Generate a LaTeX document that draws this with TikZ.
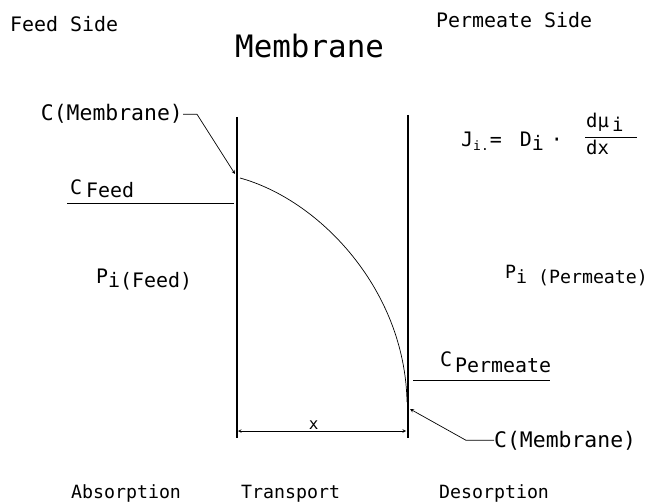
\documentclass[tikz,border=0pt]{standalone}
\usepackage{fontspec}
\setmainfont{DejaVu Sans Mono}
\usetikzlibrary{arrows}
\newcommand{\lowtxt}[2][3bp]{\raisebox{-#1}{#2}}
\tikzset{
    txt/.style = {
        inner sep=0pt, anchor=base west,
        font=\fontsize{20}{22}\selectfont
    },
    smalltxt/.style = {
        txt, font=\fontsize{18.3}{20}\selectfont
    },
    bigtxt/.style = {
        txt, font=\fontsize{21.5}{23}\selectfont
    },
    title/.style = {
        txt, font=\fontsize{31}{33}\selectfont
    },
    wall/.style = {
        line width=1.6pt
    },
    thinline/.style = {
        line width=0.7pt
    },
    leader/.style = {
        -stealth, line width=0.7pt
    },
    dim/.style = {
        stealth-stealth, line width=0.6pt
    }
}
\begin{document}
\begin{tikzpicture}[x=1bp, y=-1bp]
\useasboundingbox (0,0) rectangle (658,503);

% headings
\node (feedside) [txt] at (10,32) {Feed Side};
\node (membrane) [title] at (235,58) {Membrane};
\node (permside) [txt] at (436,28) {Permeate Side};

% membrane walls
\coordinate (lt) at (237,117);
\coordinate (lb) at (237,438);
\coordinate (rt) at (408,115);
\coordinate (rb) at (408,438);
\draw [wall] (lt) -- (lb);
\draw [wall] (rt) -- (rb);

% concentration profile
\coordinate (cstart) at (240,178);
\coordinate (cend) at (407,402);
\draw [thinline] (cstart) .. controls (320,200) and (405,290) .. (cend);

% feed side
\node (cmemtop) [bigtxt, anchor=base east] at (183,121) {C(Membrane)};
\coordinate (hittop) at (235,174);
\draw [leader] (cmemtop.east) -- ++(14,0) -- (hittop);
\node (cfeed) [txt] at (70,195) {C\kern4bp\lowtxt{Feed}};
\coordinate (fl) at (67,203);
\coordinate (fr) at (234,203);
\draw [thinline] (fl) -- (fr);
\node (pfeed) [txt] at (96,283) {P\lowtxt[4bp]{i(Feed)}};

% permeate side
\node (flux) [txt] at (461,147) {J\lowtxt[4bp]{\fontsize{13}{14}\selectfont i.}\kern1bp=\kern18bp D\lowtxt[4bp]{i}\kern7bp·};
\node (fnum) [txt, font=\fontsize{19}{20}\selectfont] at (586,128) {dµ\kern3bp\lowtxt[4bp]{i}};
\node (fden) [txt, font=\fontsize{19}{20}\selectfont] at (586,155) {dx};
\coordinate (barl) at (585,137);
\coordinate (barr) at (637,137);
\draw [thinline] (barl) -- (barr);
\node (pperm) [smalltxt] at (505,278) {P\lowtxt[5bp]{i (Permeate)}};
\node (cperm) [txt] at (440,366) {C\kern3bp\lowtxt[6bp]{Permeate}};
\coordinate (pl) at (413,380);
\coordinate (pr) at (550,380);
\draw [thinline] (pl) -- (pr);
\node (cmembot) [bigtxt] at (494,447) {C(Membrane)};
\coordinate (hitbot) at (410,409);
\draw [leader] (cmembot.west) -- ++(-28,0) -- (hitbot);

% thickness
\coordinate (dl) at (238,431);
\coordinate (dr) at (406,431);
\draw [dim] (dl) -- node (xlab) [pos=0.45, above, inner sep=1.5pt, font=\fontsize{16}{17}\selectfont] {x} (dr);

% steps
\node (absorb) [smalltxt] at (71,498) {Absorption};
\node (transp) [smalltxt] at (241,498) {Transport};
\node (desorb) [smalltxt] at (439,498) {Desorption};

\end{tikzpicture}
\end{document}
